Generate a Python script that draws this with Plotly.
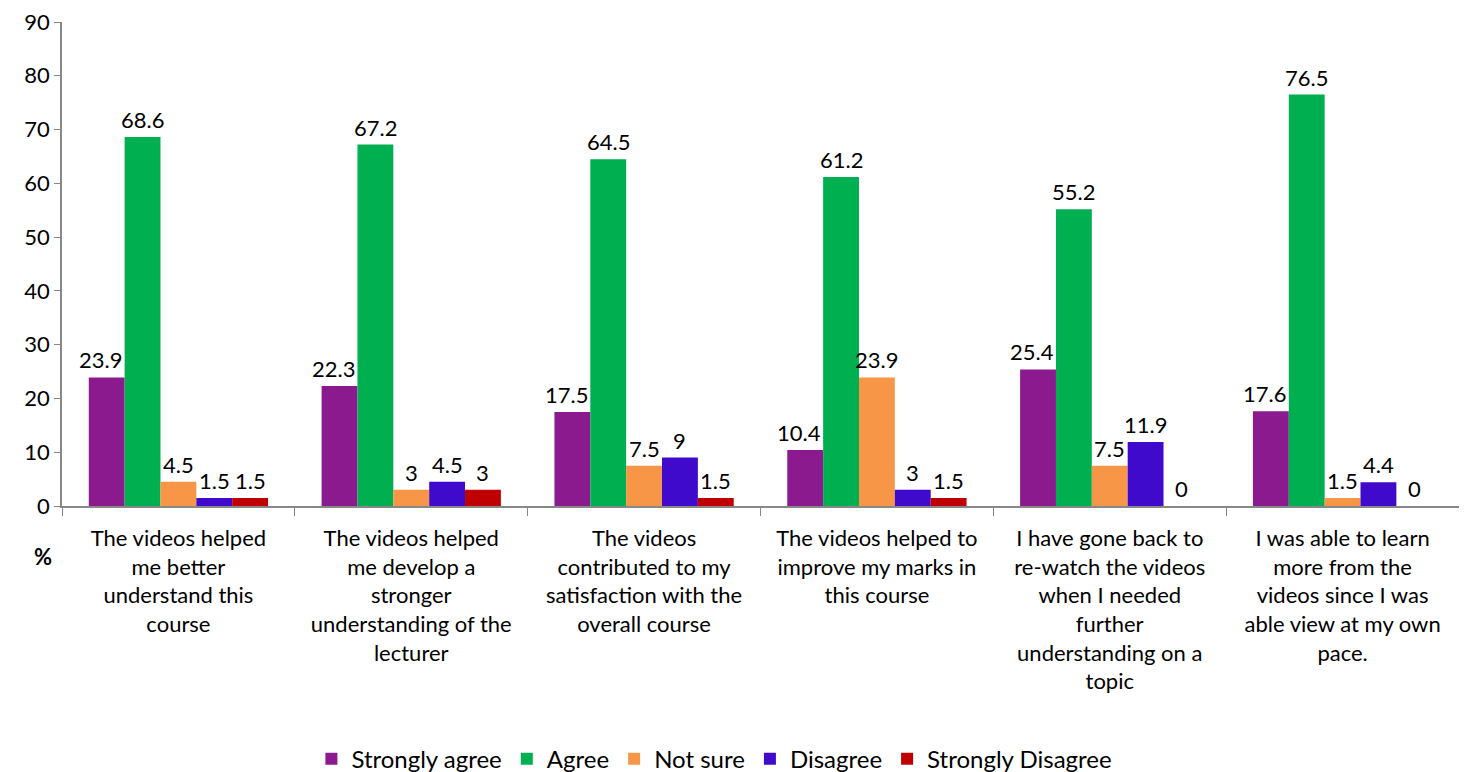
import plotly.graph_objects as go

categories = [
    "The videos helped<br>me better<br>understand this<br>course",
    "The videos helped<br>me develop a<br>stronger<br>understanding of the<br>lecturer",
    "The videos<br>contributed to my<br>satisfaction with the<br>overall course",
    "The videos helped to<br>improve my marks in<br>this course",
    "I have gone back to<br>re-watch the videos<br>when I needed<br>further<br>understanding on a<br>topic",
    "I was able to learn<br>more from the<br>videos since I was<br>able view at my own<br>pace.",
]
series_names = ["Strongly agree", "Agree", "Not sure", "Disagree", "Strongly Disagree"]
strongly_agree = [23.9, 22.3, 17.5, 10.4, 25.4, 17.6]
agree = [68.6, 67.2, 64.5, 61.2, 55.2, 76.5]
not_sure = [4.5, 3, 7.5, 23.9, 7.5, 1.5]
disagree = [1.5, 4.5, 9, 3, 11.9, 4.4]
strongly_disagree = [1.5, 3, 1.5, 1.5, 0, 0]
colors = ["#8B1A8F", "#00B050", "#F79646", "#3F0ACC", "#C00000"]
y_ticks = [0, 10, 20, 30, 40, 50, 60, 70, 80, 90]

FONT = "Lato, Calibri, sans-serif"
W, H = 1467, 772
ML, MR, MT, MB = 54, 16, 14, 274
BARGAP = 0.23
# purple labels sit slightly left of their bar (as in the original) so they clear the green bar
LABEL_NUDGE = [-6, 0, 0, 0, 0]

all_series = [strongly_agree, agree, not_sure, disagree, strongly_disagree]

fig = go.Figure()
for name, vals, col in zip(series_names, all_series, colors):
    fig.add_trace(go.Bar(x=categories, y=vals, name=name, marker_color=col,
                         marker_line_width=0))

# data labels as annotations so they sit above neighbouring bars
plot_w = W - ML - MR
bar_px = plot_w / len(categories) * (1 - BARGAP) / len(series_names)
n = len(series_names)
for i, vals in enumerate(all_series):
    shift = (i - (n - 1) / 2) * bar_px + LABEL_NUDGE[i]
    for cat, v in zip(categories, vals):
        fig.add_annotation(x=cat, y=v, text=f"{v:g}", showarrow=False,
                           xshift=shift, yshift=2, yanchor="bottom", xanchor="center",
                           font=dict(size=22, color="black", family=FONT))

fig.update_layout(
    width=W, height=H,
    barmode="group", bargap=BARGAP, bargroupgap=0,
    plot_bgcolor="white", paper_bgcolor="white",
    font=dict(family=FONT, size=22, color="black"),
    margin=dict(l=ML, r=MR, t=MT, b=MB, autoexpand=False),
    legend=dict(orientation="h", x=0.467, xanchor="center",
                y=-0.523, yanchor="middle",
                font=dict(size=24), itemwidth=30, traceorder="normal"),
    showlegend=True,
)
fig.update_yaxes(range=[0, 90], tickvals=y_ticks, showline=True, linecolor="#888888",
                 linewidth=1.5, ticks="outside", ticklen=6, tickcolor="#888888",
                 showgrid=False, zeroline=False, tickfont=dict(size=22), automargin=False,
                 ticklabeloverflow="allow")
fig.update_xaxes(showline=True, linecolor="#888888", linewidth=1.5, ticks="outside",
                 tickson="boundaries", ticklen=8, tickcolor="#888888",
                 tickfont=dict(size=22), tickangle=0, automargin=False,
                 ticklabelstandoff=12)
fig.add_annotation(text="<b>%</b>", xref="paper", yref="paper", x=-0.0136, y=-0.105,
                   showarrow=False, font=dict(size=22), xanchor="center", yanchor="middle")

fig.write_html("out.html")
